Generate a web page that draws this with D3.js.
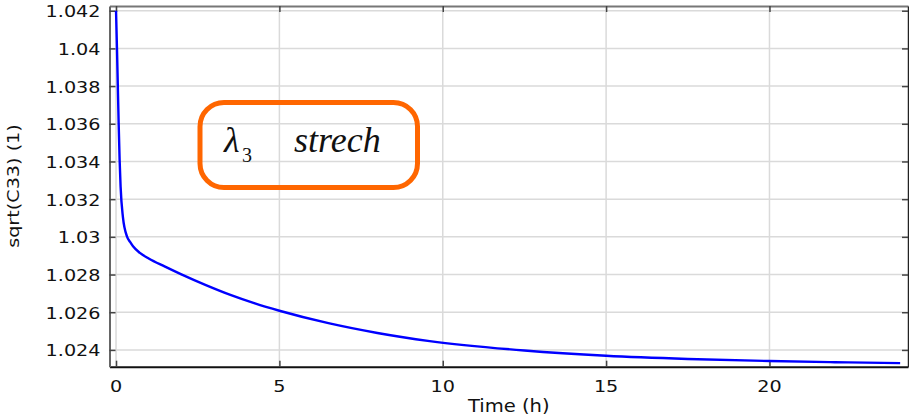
<!DOCTYPE html>
<html>
<head>
<meta charset="utf-8">
<script src="https://cdn.jsdelivr.net/npm/d3@7"></script>
<style>
  body { margin: 0; background: #fff; }
  svg { display: block; }
</style>
</head>
<body>
<svg id="chart" width="909" height="418"></svg>
<script>
// curve
var timeH = [0, 0.03, 0.08, 0.11, 0.14, 0.21, 0.34, 0.43, 0.52, 0.73, 1.0, 1.5, 2.0, 2.75, 3.5, 4.25, 5.0, 6.5, 8.0, 9.6, 12.5, 15, 17.5, 20, 22, 24];
var stretch = [1.0420, 1.03992, 1.03604, 1.03408, 1.03265, 1.03106, 1.03000, 1.02973, 1.02950, 1.02915, 1.02885, 1.02842, 1.02801, 1.02744, 1.02692, 1.02647, 1.02608, 1.02542, 1.02490, 1.02447, 1.02397, 1.02369, 1.02352, 1.02341, 1.02335, 1.02330];
var xTicks = [0, 5, 10, 15, 20];
var yTicks = [1.024, 1.026, 1.028, 1.03, 1.032, 1.034, 1.036, 1.038, 1.04, 1.042];
var xTitle = "Time (h)";
var yTitle = "sqrt(C33) (1)";

var svg = d3.select("#chart");
var pL = 109.5, pR = 908, pT = 6, pB = 366.7;

var x = d3.scaleLinear().domain([-0.2, 24.24]).range([pL, pR]);
var y = d3.scaleLinear().domain([1.02311, 1.04225]).range([pB, pT]);

var fmtY = d => String(+d.toFixed(3));

// grid
var grid = svg.append("g");
grid.selectAll(".gx").data(xTicks).enter().append("line")
    .attr("x1", d => x(d)).attr("x2", d => x(d))
    .attr("y1", pT).attr("y2", pB)
    .attr("stroke", "#dadada").attr("stroke-width", 1.5);
grid.selectAll(".gy").data(yTicks).enter().append("line")
    .attr("x1", pL).attr("x2", pR)
    .attr("y1", d => y(d)).attr("y2", d => y(d))
    .attr("stroke", "#dadada").attr("stroke-width", 1.5);

// axes, ticks pointing inward
var axB = svg.append("g").attr("transform", "translate(0," + pB + ")")
    .call(d3.axisBottom(x).tickValues(xTicks).tickSizeInner(-6).tickSizeOuter(0).tickFormat(""));
var axT = svg.append("g").attr("transform", "translate(0," + pT + ")")
    .call(d3.axisTop(x).tickValues(xTicks).tickSizeInner(-6).tickSizeOuter(0).tickFormat(""));
var axL = svg.append("g").attr("transform", "translate(" + pL + ",0)")
    .call(d3.axisLeft(y).tickValues(yTicks).tickSizeInner(-6).tickSizeOuter(0).tickFormat(""));
var axR = svg.append("g").attr("transform", "translate(" + pR + ",0)")
    .call(d3.axisRight(y).tickValues(yTicks).tickSizeInner(-6).tickSizeOuter(0).tickFormat(""));

axB.select(".domain").attr("stroke", "#111").attr("stroke-width", 2);
axT.select(".domain").attr("stroke", "#777").attr("stroke-width", 2);
axL.select(".domain").attr("stroke", "#666").attr("stroke-width", 2);
axR.select(".domain").attr("stroke", "#222").attr("stroke-width", 1.5);
svg.selectAll(".tick line").attr("stroke", "#444").attr("stroke-width", 1.5);

// tick labels (the original font is wider than DejaVu, so stretch it)
var font = "'DejaVu Sans', sans-serif";
svg.append("g").selectAll("text").data(xTicks).enter().append("text")
    .attr("transform", d => "translate(" + x(d) + "," + (pB + 25) + ") scale(1.2,1)")
    .attr("text-anchor", "middle")
    .attr("font-family", font).attr("font-size", 16).attr("fill", "#111")
    .text(d => d);
svg.append("g").selectAll("text").data(yTicks).enter().append("text")
    .attr("transform", d => "translate(" + (pL - 9) + "," + (y(d) + 6.5) + ") scale(1.2,1)")
    .attr("text-anchor", "end")
    .attr("font-family", font).attr("font-size", 16).attr("fill", "#111")
    .text(fmtY);

svg.append("text")
    .attr("transform", "translate(" + ((pL + pR) / 2) + ",412) scale(1.15,1)")
    .attr("text-anchor", "middle")
    .attr("font-family", font).attr("font-size", 17).attr("fill", "#111")
    .text(xTitle);
svg.append("text")
    .attr("transform", "translate(19,186) rotate(-90) scale(1.2,1)")
    .attr("text-anchor", "middle")
    .attr("font-family", font).attr("font-size", 16).attr("fill", "#111")
    .text(yTitle);

// curve
var line = d3.line()
    .x((d, i) => x(timeH[i]))
    .y(d => y(d))
    .curve(d3.curveMonotoneX);
svg.append("path")
    .datum(stretch)
    .attr("d", line)
    .attr("fill", "none")
    .attr("stroke", "#0000ff")
    .attr("stroke-width", 2.4);

// annotation box
var note = svg.append("g");
note.append("rect")
    .attr("x", 200).attr("y", 102.5)
    .attr("width", 217.5).attr("height", 85)
    .attr("rx", 24).attr("ry", 24)
    .attr("fill", "none")
    .attr("stroke", "#ff6600")
    .attr("stroke-width", 5);
var serif = "'Liberation Serif', 'Times New Roman', serif";
note.append("text")
    .attr("x", 224).attr("y", 152)
    .attr("font-family", serif).attr("font-style", "italic").attr("font-size", 36).attr("fill", "#111")
    .text("λ");
note.append("text")
    .attr("x", 242).attr("y", 161.5)
    .attr("font-family", serif).attr("font-size", 20).attr("fill", "#111")
    .text("3");
note.append("text")
    .attr("x", 294).attr("y", 152)
    .attr("font-family", serif).attr("font-style", "italic").attr("font-size", 36).attr("fill", "#111")
    .text("strech");
</script>
</body>
</html>
